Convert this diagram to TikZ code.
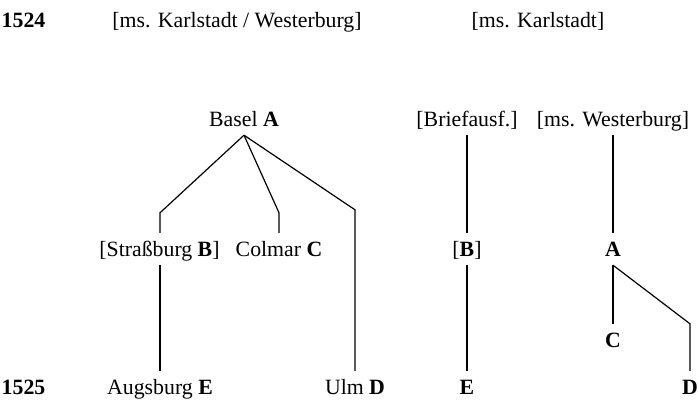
\documentclass[tikz,border=0pt]{standalone}
\usepackage{fontspec}
\setmainfont{Liberation Serif}
\begin{document}
\begin{tikzpicture}[x=1pt,y=1pt,
  lbl/.style={anchor=base,inner sep=0pt,font=\fontsize{21.8}{24}\selectfont},
  tnode/.style={lbl,text height=24pt,text depth=8pt},
  link/.style={line width=1.2pt,line join=miter}]
\useasboundingbox (0,0) rectangle (699,401);
% y_tikz = 401 - y_px
% header
\node[lbl] (y1524) at (23.5,373) {\textbf{1524}};
\node[lbl] (h1) at (237,373) {[ms. Karlstadt / Westerburg]};
\node[lbl] (h2) at (538,373) {[ms. Karlstadt]};
\node[lbl] (y1525) at (23.5,6) {\textbf{1525}};
% left tree
\node[tnode] (basel) at (244,274) {Basel \textbf{A}};
\node[tnode] (strb) at (159.5,144) {[Straßburg \textbf{B}]};
\node[tnode] (colmar) at (279,144) {Colmar \textbf{C}};
\node[tnode] (augs) at (160,6) {Augsburg \textbf{E}};
\node[tnode] (ulm) at (355,6) {Ulm \textbf{D}};
\coordinate (bStr) at (160,144);
\coordinate (bAug) at (160,6);
% right trees
\node[tnode] (brief) at (467,274) {[Briefausf.]};
\node[tnode] (westb) at (613,274) {[ms. Westerburg]};
\node[tnode] (rB) at (467,144) {[\textbf{B}]};
\node[tnode] (rA) at (613,144) {\textbf{A}};
\node[tnode] (rC) at (613,53) {\textbf{C}};
\node[tnode] (rE) at (467,6) {\textbf{E}};
\node[tnode] (rD) at (690,6) {\textbf{D}};
% connectors
\draw[link] (basel.south) -- ([yshift=20pt]bStr |- strb.north) -- (bStr |- strb.north);
\draw[link] (basel.south) -- ([yshift=20pt]colmar.north) -- (colmar.north);
\draw[link] (basel.south) -- ([yshift=161pt]ulm.north) -- (ulm.north);
\draw[link] (bStr |- strb.south) -- (bAug |- augs.north);
\draw[link] (brief.south) -- (rB.north);
\draw[link] (rB.south) -- (rE.north);
\draw[link] (westb.south) -- (rA.north);
\draw[link] (rA.south) -- (rC.north);
\draw[link] (rA.south) -- (rD.north |- rC.north) -- (rD.north);
\end{tikzpicture}
\end{document}
